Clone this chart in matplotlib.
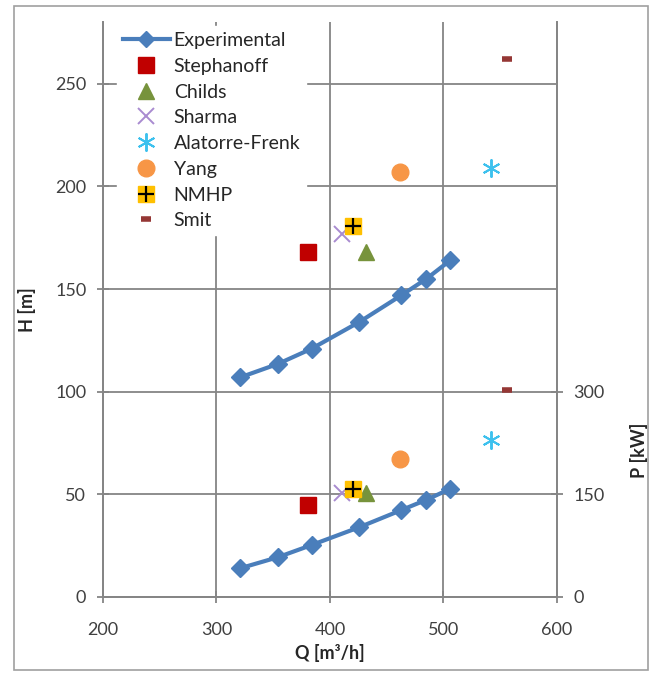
import matplotlib
matplotlib.use('Agg')
import matplotlib.pyplot as plt
from matplotlib.patches import Rectangle
from matplotlib.legend_handler import HandlerTuple

plt.rcParams['font.family'] = ['Lato', 'DejaVu Sans']

# experimental curves
q_exp = [321, 354, 384, 426, 463, 485, 506]
h_exp = [107, 113.5, 121, 134, 147, 155, 164]
p_exp = [42, 58, 76, 102, 127, 142, 158]

# predictions: (Q, H, P)
methods = ['Stephanoff', 'Childs', 'Sharma', 'Alatorre-Frenk', 'Yang', 'NMHP', 'Smit']
q_pred = [381, 432, 411, 542, 462, 420, 556]
h_pred = [168, 168, 177, 209, 207, 180.5, 262]
p_pred = [134, 152, 152, 229, 201, 158, 302]

blue = '#4A7EBB'
grid_c = '#858585'
txt_c = '#404040'

fig = plt.figure(figsize=(6.56, 6.73), dpi=100)
ax = fig.add_axes([0.157, 0.113, 0.692, 0.854])
ax2 = ax.twinx()

ax.set_xlim(200, 600)
ax.set_ylim(0, 280)
ax2.set_ylim(0, 840)
ax.set_xticks([200, 300, 400, 500, 600])
ax.set_yticks([0, 50, 100, 150, 200, 250])
ax2.set_yticks([0, 150, 300])

ax.grid(True, color=grid_c, linewidth=1.3)
ax.set_axisbelow(True)
for a in (ax, ax2):
    a.spines['top'].set_visible(False)
    for s in ('left', 'right', 'bottom'):
        a.spines[s].set_color(grid_c)
        a.spines[s].set_linewidth(1.3)
    a.tick_params(direction='inout', length=8, width=1.3, color=grid_c,
                  labelsize=13, labelcolor=txt_c, pad=8)
ax.tick_params(axis='x', pad=14)

# experimental lines
ax.plot(q_exp, h_exp, color=blue, lw=3, marker='D', ms=9, zorder=3)
ax2.plot(q_exp, p_exp, color=blue, lw=3, marker='D', ms=9, zorder=3)

styles = {
    'Stephanoff': dict(marker='s', color='#C00000', ms=12, mec='#C00000'),
    'Childs': dict(marker='^', color='#77933C', ms=11, mec='#77933C'),
    'Sharma': dict(marker='x', color='#A98BD0', ms=11, mew=1.4),
    'Alatorre-Frenk': dict(marker=(6, 2, 0), color='#3DC1EE', ms=13, mew=1.4),
    'Yang': dict(marker='o', color='#F79646', ms=12, mec='#F79646'),
    'NMHP': dict(marker='s', color='#FFC000', ms=12, mec='#FFC000'),
    'Smit': dict(marker='_', color='#953735', ms=7, mew=4),
}

handles = []
exp_h, = ax.plot([], [], color=blue, lw=3, marker='D', ms=8)
handles.append(exp_h)
labels = ['Experimental']
for i, m in enumerate(methods):
    st = styles[m]
    ax.plot(q_pred[i], h_pred[i], ls='none', zorder=4, **st)
    ax2.plot(q_pred[i], p_pred[i], ls='none', zorder=4, **st)
    h, = ax.plot([], [], ls='none', **st)
    if m == 'NMHP':
        for a, y in ((ax, h_pred[i]), (ax2, p_pred[i])):
            a.plot(q_pred[i], y, ls='none', marker='+', color='black', ms=11, mew=1.6, zorder=5)
        hp, = ax.plot([], [], ls='none', marker='+', color='black', ms=11, mew=1.6)
        h = (h, hp)
    handles.append(h)
    labels.append(m)

leg = ax2.legend(handles, labels, loc='upper left', bbox_to_anchor=(0.01, 1.01),
                 fontsize=14, frameon=True, fancybox=False, framealpha=1,
                 edgecolor='white', handlelength=2.4, handletextpad=0.2,
                 labelspacing=0.45, borderpad=0.3,
                 handler_map={tuple: HandlerTuple(ndivide=1, pad=0)})
for t in leg.get_texts():
    t.set_color('#262626')

ax.set_xlabel('Q [m³/h]', fontsize=13, fontweight='bold', color='#262626', labelpad=4)
ax.set_ylabel('H [m]', fontsize=13, fontweight='bold', color='#262626', labelpad=14)
ax2.set_ylabel('P [kW]', fontsize=13, fontweight='bold', color='#262626')
ax2.yaxis.set_label_coords(1.16, 0.255)

fig.patches.append(Rectangle((14 / 656, 1 - 670 / 673), 634 / 656, 664 / 673,
                             transform=fig.transFigure, fill=False,
                             edgecolor='#A0A0A0', lw=1.2))

fig.savefig('out.png', dpi=100)
